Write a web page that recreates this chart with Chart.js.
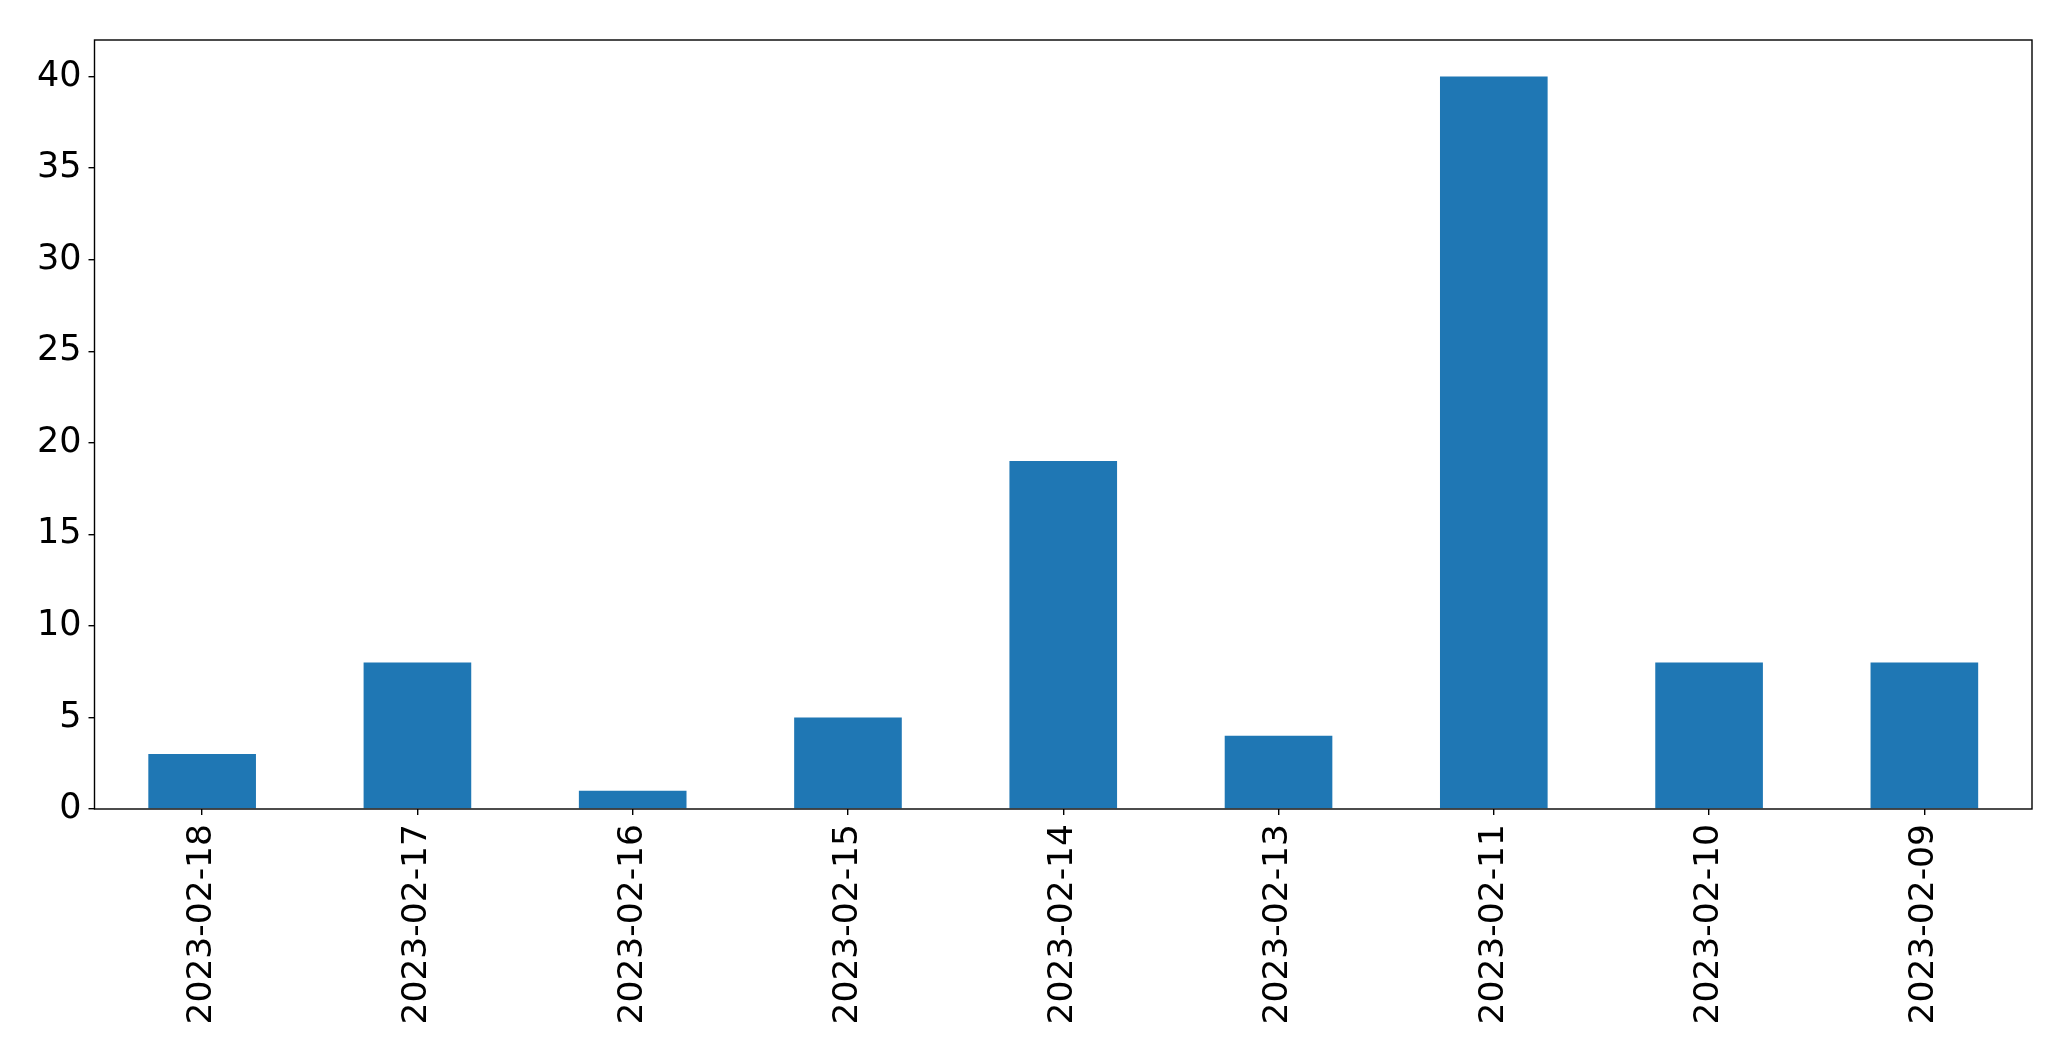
<!DOCTYPE html>
<html><head><meta charset="utf-8">
<script src="https://cdn.jsdelivr.net/npm/chart.js@4.4.0/dist/chart.umd.min.js"></script>
<style>html,body{margin:0;padding:0;background:#fff;}#wrap{width:2071px;height:1061px;}</style>
</head><body><div id="wrap"><canvas id="c" width="2071" height="1061"></canvas></div>
<script>
const categories = ["2023-02-18","2023-02-17","2023-02-16","2023-02-15","2023-02-14","2023-02-13","2023-02-11","2023-02-10","2023-02-09"];
const counts = [3, 8, 1, 5, 19, 4, 40, 8, 8];
const yTicks = [0, 5, 10, 15, 20, 25, 30, 35, 40];

const frame = {
  id: 'frame',
  afterDraw(chart) {
    const a = chart.chartArea, ctx = chart.ctx;
    ctx.save();
    ctx.strokeStyle = '#000';
    ctx.lineWidth = 1.4;
    ctx.strokeRect(a.left, a.top, a.right - a.left, a.bottom - a.top);
    ctx.restore();
  }
};

new Chart(document.getElementById('c'), {
  type: 'bar',
  data: { labels: categories, datasets: [{ data: counts, backgroundColor: '#1f77b4', borderWidth: 0, barPercentage: 0.5, categoryPercentage: 1.0 }] },
  options: {
    responsive: false, animation: false,
    layout: { padding: { left: 0, right: 39, top: 40, bottom: 0 } },
    plugins: { legend: { display: false }, tooltip: { enabled: false } },
    scales: {
      x: {
        offset: true,
        grid: { display: true, drawOnChartArea: false, drawTicks: true, tickLength: 6, color: '#000', lineWidth: 1.4, offset: false },
        border: { display: false },
        ticks: { color: '#000', font: { family: 'DejaVu Sans', size: 34.5 }, maxRotation: 90, minRotation: 90, padding: 9, autoSkip: false },
        afterFit(s) { s.height = 252; }
      },
      y: {
        min: 0, max: 42,
        afterBuildTicks(s) { s.ticks = yTicks.map(v => ({ value: v })); },
        grid: { display: true, drawOnChartArea: false, drawTicks: true, tickLength: 6, color: '#000', lineWidth: 1.4 },
        border: { display: false },
        ticks: { color: '#000', font: { family: 'DejaVu Sans', size: 35 }, padding: 7 },
        afterFit(s) { s.width = 94.5; }
      }
    }
  },
  plugins: [frame]
});
</script></body></html>
